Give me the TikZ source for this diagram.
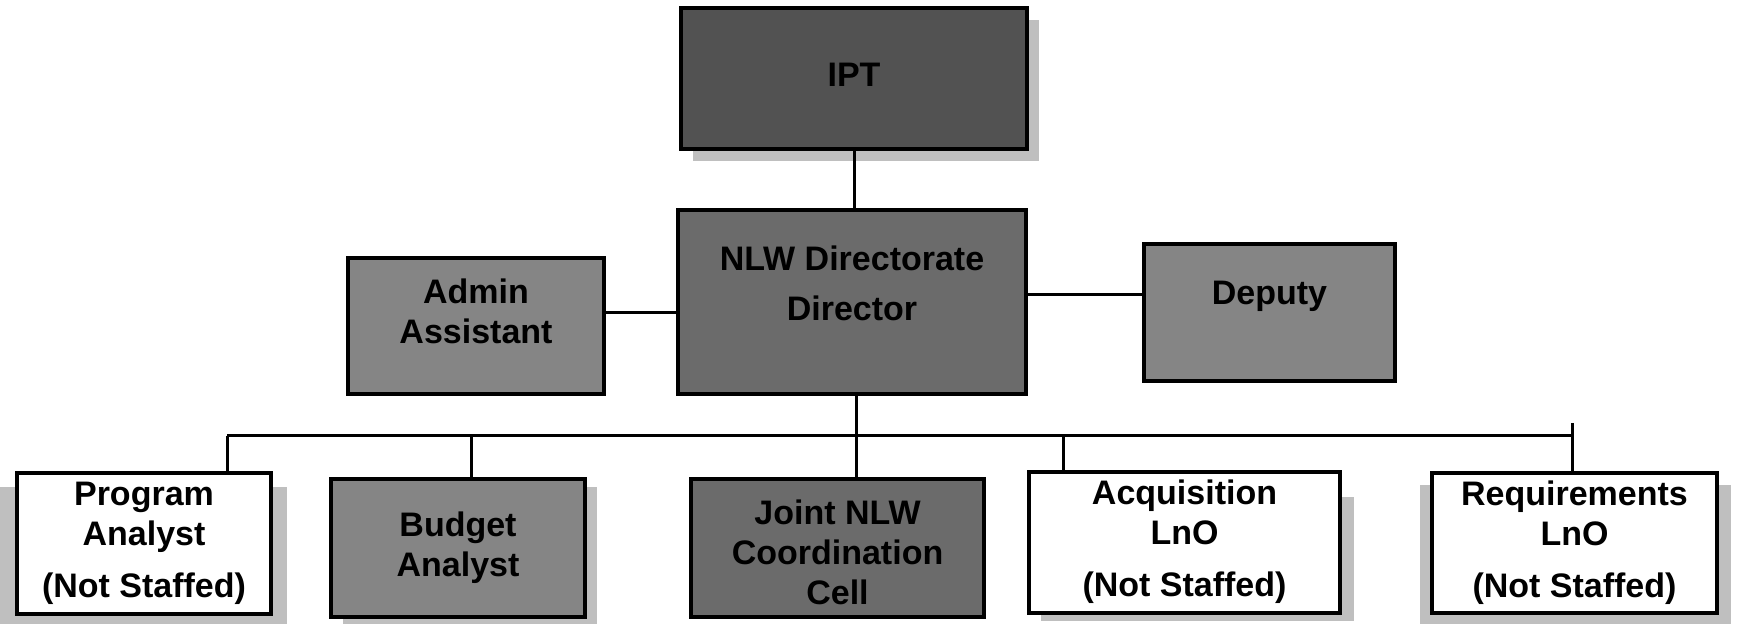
\documentclass[tikz,border=0pt]{standalone}
\usepackage{fontspec}
\setmainfont{Liberation Sans}
\usetikzlibrary{backgrounds}
\newcommand\boxtext[2]{\raisebox{#1}[\height][\depth]{\begin{tabular}{@{}c@{}}#2\end{tabular}}}
\begin{document}
\begin{tikzpicture}[x=0.5pt,y=-0.5pt,
  every node/.style={font=\fontsize{17}{20}\selectfont\bfseries},
  box/.style={draw=black, line width=2pt, rectangle, inner sep=0pt, outer sep=0pt},
  wbox/.style={box, fill=white},
  dkbox/.style={box, fill=black!68},
  mdbox/.style={box, fill=black!58},
  ltbox/.style={box, fill=black!48},
  shadow/.style={fill=black!25},
  conn/.style={line width=1.5pt}]
\useasboundingbox (0,0) rectangle (1754,624);

\node[dkbox, minimum width=173pt, minimum height=70.5pt] (ipt) at (854,78.5) {\boxtext{0pt}{IPT}};
\node[mdbox, minimum width=174pt, minimum height=92pt] (dir) at (852,302) {\boxtext{7pt}{NLW Directorate\\[5pt]Director}};
\node[ltbox, minimum width=128pt, minimum height=68pt] (adm) at (476,326) {\boxtext{5pt}{Admin\\Assistant}};
\node[ltbox, minimum width=125.5pt, minimum height=68.5pt] (dep) at (1269.5,312.5) {\boxtext{8pt}{Deputy}};
\node[wbox, minimum width=127pt, minimum height=70.5pt] (prog) at (144,543.5) {\boxtext{0pt}{Program\\Analyst\\[6pt](Not Staffed)}};
\node[ltbox, minimum width=127pt, minimum height=69pt] (bud) at (458,548) {\boxtext{0pt}{Budget\\Analyst}};
\node[mdbox, minimum width=146.5pt, minimum height=69pt] (joint) at (837.5,548) {\boxtext{-4pt}{Joint NLW\\Coordination\\Cell}};
\node[wbox, minimum width=155.5pt, minimum height=70.5pt] (acq) at (1184.5,542.5) {\boxtext{0pt}{Acquisition\\LnO\\[6pt](Not Staffed)}};
\node[wbox, minimum width=142.5pt, minimum height=70pt] (req) at (1574.5,543) {\boxtext{0pt}{Requirements\\LnO\\[6pt](Not Staffed)}};

\begin{scope}[on background layer]
\fill[shadow] ([shift={(12,12)}]ipt.north west) rectangle ([shift={(12,12)}]ipt.south east);
\fill[shadow] ([shift={(-17,14)}]prog.north west) rectangle ([shift={(16,10)}]prog.south east);
\fill[shadow] ([shift={(12,8)}]bud.north west) rectangle ([shift={(12,8)}]bud.south east);
\fill[shadow] ([shift={(12,25)}]acq.north west) rectangle ([shift={(14,8)}]acq.south east);
\fill[shadow] ([shift={(-12,12)}]req.north west) rectangle ([shift={(14,11)}]req.south east);
\end{scope}

\coordinate (ad) at (0,313);
\coordinate (dd) at (0,295);
\coordinate (bc) at (856,436);
\coordinate (bl) at (227,436);
\coordinate (bb) at (471,436);
\coordinate (ba) at (1063,436);
\coordinate (br) at (1572,436);
\coordinate (rt) at (1572,423);

\draw[conn] (ipt.south) -- (ipt.south |- dir.north);
\draw[conn] (adm.east |- ad) -- (dir.west |- ad);
\draw[conn] (dir.east |- dd) -- (dep.west |- dd);
\draw[conn] (dir.south -| bc) -- (bc);
\draw[conn] (bl) -- (br);
\draw[conn] (bl) -- (bl |- prog.north);
\draw[conn] (bb) -- (bb |- bud.north);
\draw[conn] (bc) -- (bc |- joint.north);
\draw[conn] (ba) -- (ba |- acq.north);
\draw[conn] (rt) -- (rt |- req.north);
\end{tikzpicture}
\end{document}
